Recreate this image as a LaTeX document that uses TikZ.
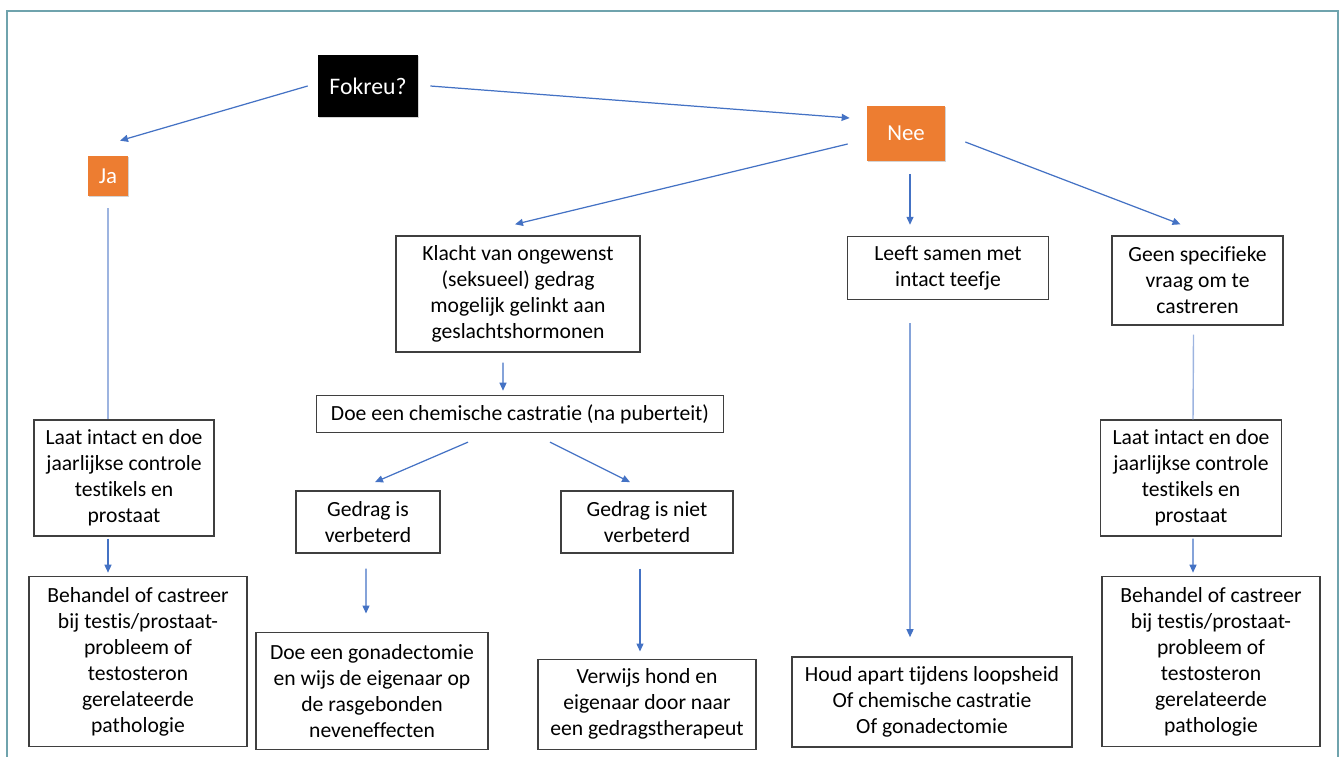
\documentclass[tikz,border=0pt]{standalone}
\usepackage{fontspec}
\setmainfont{Carlito}[Ligatures={NoCommon}]
\usepackage{xcolor}
\usepackage{tikz}
\usetikzlibrary{positioning,shapes,arrows.meta,calc,shadows}

\definecolor{lineblue}{HTML}{4472C4}
\definecolor{lightblue}{HTML}{9DB4E0}
\definecolor{boxgray}{HTML}{3F3F3F}
\definecolor{nodeorange}{HTML}{ED7D31}
\definecolor{frameteal}{HTML}{6FA3AD}

\begin{document}
\begin{tikzpicture}[
    box/.style={rectangle, draw=boxgray, line width=0.8pt, align=center, fill=white, inner sep=2pt,
                font=\fontsize{12.3}{14.8}\selectfont},
    answer/.style={rectangle, fill=nodeorange, text=white, align=center,
                   drop shadow={shadow xshift=0.6pt, shadow yshift=-0.8pt, opacity=0.35},
                   font=\fontsize{13}{15}\selectfont},
    question/.style={rectangle, fill=black, text=white, align=center,
                     drop shadow={shadow xshift=0.6pt, shadow yshift=-0.8pt, opacity=0.35},
                     font=\fontsize{13.5}{16}\selectfont},
    arrow/.style={-{Triangle[length=1.6mm, width=1.4mm]}, lineblue, line width=0.7pt},
    link/.style={lightblue, line width=0.8pt}
]
\useasboundingbox (0,0) rectangle (26.8,-15.12);
\draw[frameteal, line width=1.4pt] (0.14,-15.2) |- (26.76,-0.22) -- (26.76,-15.2);

% top of the tree
\node[question, minimum width=2cm, minimum height=1.24cm] (fok) at (7.36,-1.72) {Fokreu?};
\node[answer, minimum width=0.8cm, minimum height=0.8cm] (ja) at (2.16,-3.52) {Ja};
\node[answer, minimum width=1.56cm, minimum height=1.1cm] (nee) at (18.12,-2.66) {Nee};

% branch Ja
\node[box, minimum width=3.6cm, minimum height=2.32cm] (laatL) at (2.48,-9.56)
    {Laat intact en doe\\ jaarlijkse controle\\ testikels en\\ prostaat};
\node[box, below=0.78cm of laatL, xshift=0.28cm, minimum width=4.36cm, minimum height=3.4cm] (behL)
    {Behandel of castreer\\ bij testis/prostaat-\\ probleem of\\ testosteron\\ gerelateerde\\ pathologie};

% branch Nee: gedrag
\node[box, minimum width=4.88cm, minimum height=2.32cm] (klacht) at (10.36,-5.88)
    {Klacht van ongewenst\\ (seksueel) gedrag\\ mogelijk gelinkt aan\\ geslachtshormonen};
\node[box, below=0.84cm of klacht, xshift=0.04cm, minimum width=8.14cm, minimum height=0.74cm] (doe)
    {Doe een chemische castratie (na puberteit)};
\node[box, below=1.14cm of doe, xshift=-3.04cm, minimum width=2.88cm, minimum height=1.24cm] (gedrag)
    {Gedrag is\\ verbeterd};
\node[box, below=1.14cm of doe, xshift=2.54cm, minimum width=3.44cm, minimum height=1.24cm] (niet)
    {Gedrag is niet\\ verbeterd};
\node[box, below=1.56cm of gedrag, xshift=0.08cm, minimum width=4.64cm, minimum height=2.34cm] (gona)
    {Doe een gonadectomie\\ en wijs de eigenaar op\\ de rasgebonden\\ neveneffecten};
\node[box, below=2.1cm of niet, minimum width=4.36cm, minimum height=1.8cm] (verw)
    {Verwijs hond en\\ eigenaar door naar\\ een gedragstherapeut};

% branch Nee: teefje
\node[box, minimum width=4.02cm, minimum height=1.26cm] (leeft) at (18.96,-5.36)
    {Leeft samen met\\ intact teefje};
\node[box, below=7.12cm of leeft, xshift=-0.32cm, minimum width=5.6cm, minimum height=1.8cm] (houd)
    {Houd apart tijdens loopsheid\\ Of chemische castratie\\ Of gonadectomie};

% branch Nee: geen vraag
\node[box, minimum width=3.42cm, minimum height=1.78cm] (geen) at (23.95,-5.61)
    {Geen specifieke\\ vraag om te\\ castreren};
\node[box, minimum width=3.62cm, minimum height=2.32cm] (laatR) at (23.82,-9.56)
    {Laat intact en doe\\ jaarlijkse controle\\ testikels en\\ prostaat};
\node[box, below=0.78cm of laatR, xshift=0.4cm, minimum width=4.36cm, minimum height=3.4cm] (behR)
    {Behandel of castreer\\ bij testis/prostaat-\\ probleem of\\ testosteron\\ gerelateerde\\ pathologie};

% connectors
\draw[arrow] ($(fok.west)+(-0.2,0)$) -- ($(ja.north)+(0.24,0.3)$);
\draw[arrow] ($(fok.east)+(0.24,0)$) -- ($(nee.west)+(-0.34,0.3)$);
\draw[arrow] ($(nee.west)+(-0.38,-0.22)$) -- ($(klacht.north)+(-0.06,0.22)$);
\draw[arrow] ($(nee.south)+(0.08,-0.26)$) -- ($(nee.south |- leeft.north)+(0.08,0.22)$);
\draw[arrow] ($(nee.east)+(0.4,-0.18)$) -- ($(geen.north)+(-0.34,0.22)$);
\draw[link] ($(ja.south)+(0,-0.24)$) -- (ja.south |- laatL.north);
\draw[arrow] ($(laatL.south)+(-0.32,-0.04)$) -- ($(behL.north)+(-0.6,0.06)$);
\draw[arrow] ($(klacht.south)+(-0.3,-0.2)$) -- ($(doe.north)+(-0.34,0.08)$);
\draw[arrow] ($(doe.south)+(-1.04,-0.18)$) -- ($(gedrag.north)+(0.14,0.16)$);
\draw[arrow] ($(doe.south)+(0.6,-0.18)$) -- ($(niet.north)+(-0.34,0.16)$);
\draw[arrow] ($(gedrag.south)+(-0.04,-0.3)$) -- ($(gona.north)+(-0.12,0.36)$);
\draw[arrow] ($(niet.south)+(-0.14,-0.3)$) -- ($(verw.north)+(-0.14,0.14)$);
\draw[arrow] ($(leeft.south)+(-0.76,-0.46)$) -- ($(houd.north)+(-0.44,0.38)$);
\draw[link] ($(geen.south)+(-0.08,-0.18)$) -- ($(laatR.north)+(0.04,0)$);
\draw[arrow] ($(laatR.south)+(0.04,-0.04)$) -- ($(behR.north)+(-0.36,0.06)$);
\end{tikzpicture}
\end{document}
